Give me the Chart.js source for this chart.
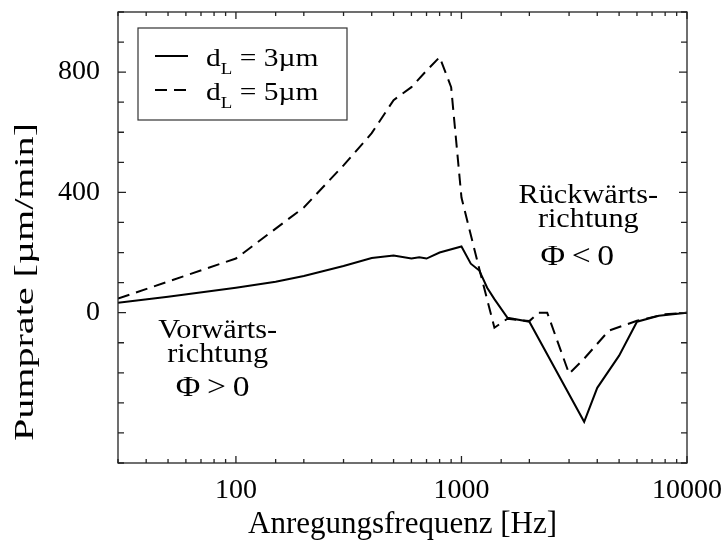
<!DOCTYPE html>
<html>
<head>
<meta charset="utf-8">
<script src="https://cdn.jsdelivr.net/npm/chart.js@4.4.0/dist/chart.umd.min.js"></script>
<style>
  html, body { margin: 0; padding: 0; background: #fff; }
  #wrap { width: 723px; height: 543px; }
</style>
</head>
<body>
<div id="wrap"><canvas id="pumpChart"></canvas></div>
<script>
// d_L = 3 um (solid)
const freq3 = [30, 50, 100, 150, 200, 300, 400, 500, 600, 650, 700, 800, 1000, 1100, 1200, 1300, 1400, 1600, 2000, 3500, 4000, 5000, 6000, 7500, 10000];
const rate3 = [33, 53, 83, 103, 122, 155, 182, 190, 180, 184, 180, 200, 220, 163, 140, 83, 45, -17, -30, -363, -250, -143, -30, -10, 0];

// d_L = 5 um (dashed)
const freq5 = [30, 100, 200, 300, 400, 500, 600, 700, 800, 900, 1000, 1200, 1400, 1600, 2000, 2200, 2400, 3000, 3500, 4500, 6000, 8000, 10000];
const rate5 = [47, 180, 350, 490, 597, 707, 750, 805, 850, 750, 383, 145, -50, -20, -28, 0, 0, -203, -153, -60, -27, -5, 0];

const xTickLabels = [100, 1000, 10000];
const yTickLabels = [0, 400, 800];

const serif = '"Liberation Serif", "Times New Roman", serif';

function isDecade(v) {
  const l = Math.log10(v);
  return Math.abs(l - Math.round(l)) < 1e-9;
}

// text stretched sideways, the source figure's lettering is wide
function wideText(ctx, txt, x, y, sx) {
  ctx.save();
  ctx.translate(x, y);
  ctx.scale(sx, 1);
  ctx.fillText(txt, 0, 0);
  ctx.restore();
}

// frame, inward ticks, legend, y title and region notes
const decorPlugin = {
  id: 'decor',
  afterDraw(chart) {
    const ctx = chart.ctx;
    const { left, right, top, bottom } = chart.chartArea;
    const xs = chart.scales.x, ys = chart.scales.y;
    ctx.save();
    ctx.strokeStyle = '#222';
    ctx.lineWidth = 1.3;
    ctx.strokeRect(left, top, right - left, bottom - top);

    ctx.beginPath();
    xs.ticks.forEach(t => {
      const px = xs.getPixelForValue(t.value);
      const len = isDecade(t.value) ? 7 : 4;
      ctx.moveTo(px, bottom); ctx.lineTo(px, bottom - len);
      ctx.moveTo(px, top); ctx.lineTo(px, top + len);
    });
    ys.ticks.forEach(t => {
      const py = ys.getPixelForValue(t.value);
      const len = yTickLabels.includes(t.value) ? 8 : 6;
      ctx.moveTo(left, py); ctx.lineTo(left + len, py);
      ctx.moveTo(right, py); ctx.lineTo(right - len, py);
    });
    ctx.stroke();

    // y axis title
    ctx.fillStyle = '#000';
    ctx.font = '28px ' + serif;
    ctx.textAlign = 'center';
    ctx.textBaseline = 'middle';
    const yTitle = 'Pumprate [\u00b5m/min]';
    ctx.save();
    ctx.translate(26, 282);
    ctx.rotate(-Math.PI / 2);
    ctx.scale(318 / ctx.measureText(yTitle).width, 1);
    ctx.fillText(yTitle, 0, 0);
    ctx.restore();

    // legend
    const bx = left + 20, by = top + 16, bw = 209, bh = 92;
    ctx.strokeStyle = '#333';
    ctx.lineWidth = 1.2;
    ctx.strokeRect(bx, by, bw, bh);
    const items = [
      { sub: 'L', rest: ' = 3\u00b5m', dash: [] },
      { sub: 'L', rest: ' = 5\u00b5m', dash: [12, 7] }
    ];
    const sx = 1.18;
    items.forEach((it, i) => {
      const ly = by + 28 + i * 34;
      ctx.strokeStyle = '#000';
      ctx.lineWidth = 2;
      ctx.setLineDash(it.dash);
      ctx.beginPath();
      ctx.moveTo(bx + 17, ly); ctx.lineTo(bx + 50, ly);
      ctx.stroke();
      ctx.setLineDash([]);
      ctx.textAlign = 'left';
      ctx.textBaseline = 'alphabetic';
      let tx = bx + 68;
      const base = ly + 10;
      ctx.font = '25px ' + serif;
      wideText(ctx, 'd', tx, base, sx);
      tx += ctx.measureText('d').width * sx;
      ctx.font = '16px ' + serif;
      wideText(ctx, it.sub, tx, base + 8, sx);
      tx += ctx.measureText(it.sub).width * sx;
      ctx.font = '25px ' + serif;
      wideText(ctx, it.rest, tx, base, sx);
    });

    // region notes: [text, baseline y, size, x shift]
    const notes = [
      { f: 83, lines: [['Vorw\u00e4rts-', 338, 27, 0], ['richtung', 362, 27, 0], ['\u03a6\u2009>\u20090', 396, 30, -5]] },
      { f: 3650, lines: [['R\u00fcckw\u00e4rts-', 203, 27, 0], ['richtung', 227, 27, 0], ['\u03a6\u2009<\u20090', 265, 30, -11]] }
    ];
    ctx.textAlign = 'center';
    ctx.textBaseline = 'alphabetic';
    notes.forEach(n => {
      const cx = xs.getPixelForValue(n.f);
      n.lines.forEach(([txt, y, size, dx]) => {
        ctx.font = size + 'px ' + serif;
        wideText(ctx, txt, cx + dx, y, 1.12);
      });
    });
    ctx.restore();
  }
};

new Chart(document.getElementById('pumpChart'), {
  type: 'line',
  data: {
    datasets: [{
      label: 'dL = 3\u00b5m',
      data: freq3.map((f, i) => ({ x: f, y: rate3[i] })),
      borderColor: '#000',
      borderWidth: 2,
      pointRadius: 0,
      tension: 0
    }, {
      label: 'dL = 5\u00b5m',
      data: freq5.map((f, i) => ({ x: f, y: rate5[i] })),
      borderColor: '#000',
      borderWidth: 2,
      borderDash: [12, 7],
      pointRadius: 0,
      tension: 0
    }]
  },
  options: {
    responsive: true,
    maintainAspectRatio: false,
    animation: false,
    devicePixelRatio: 1,
    layout: { padding: { top: 12, right: 36, left: 0, bottom: 0 } },
    plugins: {
      legend: { display: false },
      tooltip: { enabled: false }
    },
    scales: {
      x: {
        type: 'logarithmic',
        min: 30,
        max: 10000,
        grid: { display: false, drawTicks: false },
        border: { display: false },
        ticks: {
          autoSkip: false,
          maxRotation: 0,
          padding: 11,
          color: '#000',
          font: { family: serif, size: 28 },
          callback: v => xTickLabels.includes(v) ? String(v) : ''
        },
        title: {
          display: true,
          text: 'Anregungsfrequenz [Hz]',
          color: '#000',
          font: { family: serif, size: 31 },
          padding: { top: 0, bottom: 0 }
        },
        afterFit: s => { s.height = 80; s.paddingLeft = 0; s.paddingRight = 0; }
      },
      y: {
        min: -500,
        max: 1000,
        grid: { display: false, drawTicks: false },
        border: { display: false },
        ticks: {
          stepSize: 100,
          autoSkip: false,
          padding: 18,
          color: '#000',
          font: { family: serif, size: 28 },
          callback: v => yTickLabels.includes(v) ? String(v) : ''
        },
        afterFit: s => { s.width = 118; s.paddingTop = 0; s.paddingBottom = 0; }
      }
    }
  },
  plugins: [decorPlugin]
});
</script>
</body>
</html>
